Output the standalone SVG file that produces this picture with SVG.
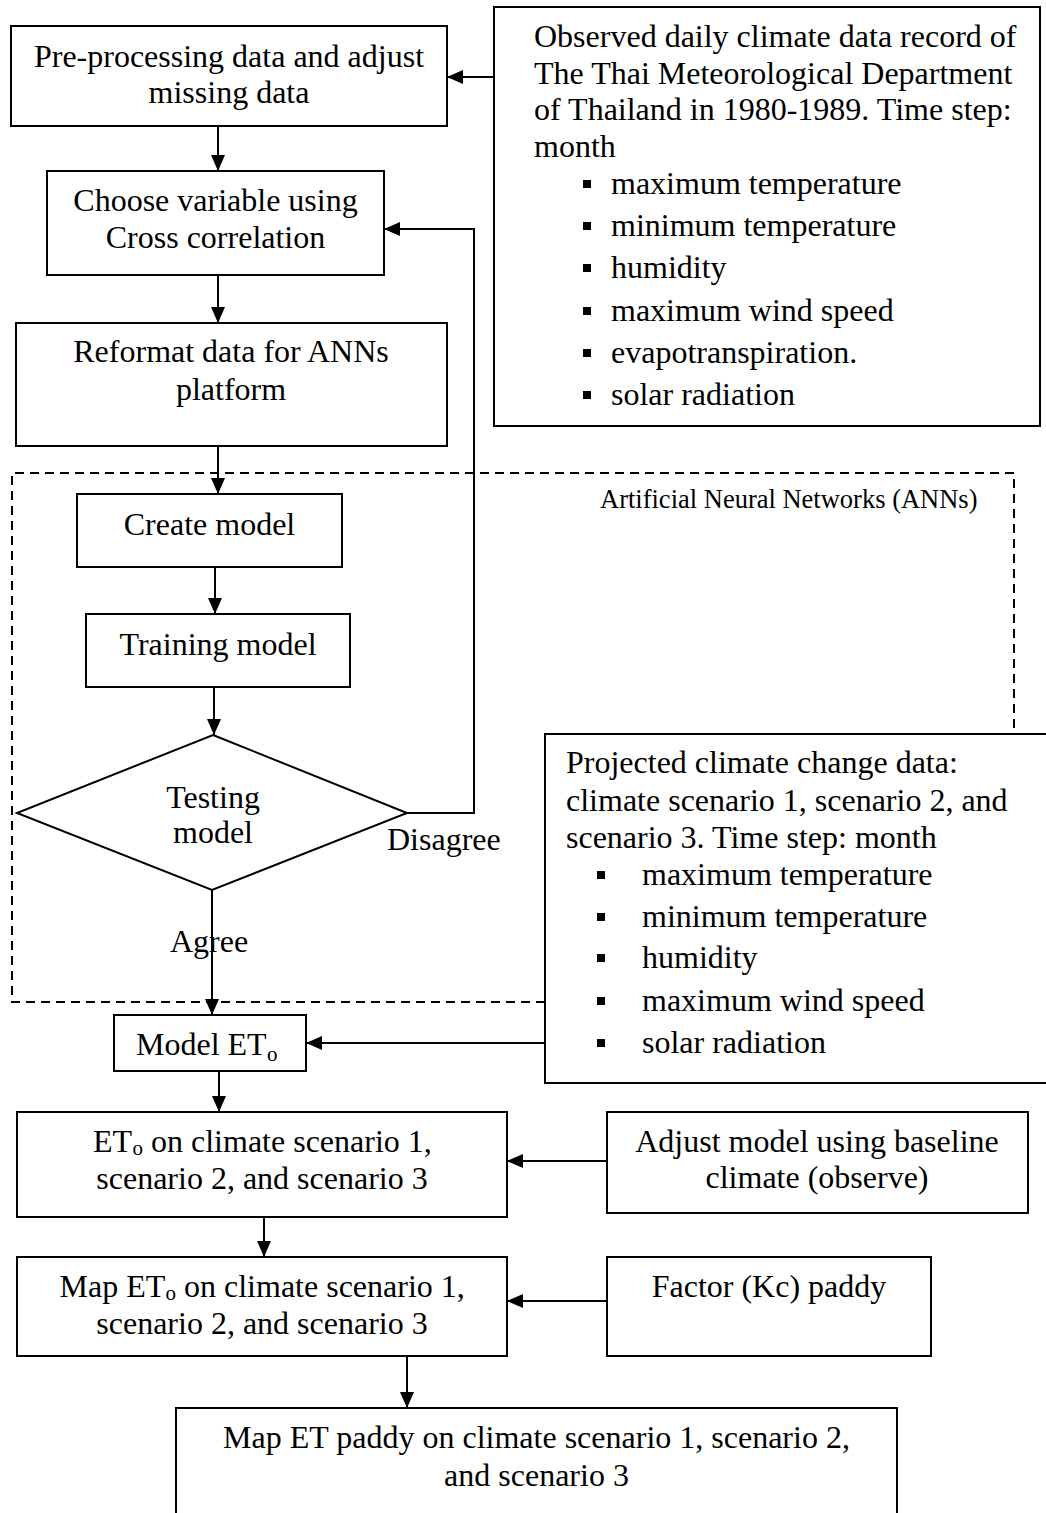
<svg xmlns="http://www.w3.org/2000/svg" width="1046" height="1513" viewBox="0 0 1046 1513">
  <style>
    .box { fill: #ffffff; stroke: #000000; stroke-width: 2; }
    .open { fill: none; stroke: #000000; stroke-width: 2; }
    .dash { fill: none; stroke: #000000; stroke-width: 2; stroke-dasharray: 9 6; }
    .arrow { fill: none; stroke: #000000; stroke-width: 2; marker-end: url(#head); }
    text { font-family: "Liberation Serif", "Times New Roman", serif; font-size: 32px; fill: #000000; }
    .c { text-anchor: middle; }
    .small { font-size: 26.5px; }
    .sub { font-size: 21px; }
    .bullet { fill: #000000; }
  </style>
  <defs>
    <marker id="head" markerUnits="userSpaceOnUse" markerWidth="16" markerHeight="14" refX="16" refY="7" orient="auto">
      <path d="M0,0 L16,7 L0,14 Z" fill="#000000"/>
    </marker>
  </defs>

  <!-- ANN group boundary -->
  <path class="dash" d="M545,1002 H12 V473 H1014 V734"/>
  <text class="small" x="600" y="508">Artificial Neural Networks (ANNs)</text>

  <g id="preprocess">
    <rect class="box" x="11" y="26" width="436" height="100"/>
    <text class="c" x="229" y="67">Pre-processing data and adjust</text>
    <text class="c" x="229" y="103">missing data</text>
  </g>

  <g id="observed">
    <rect class="box" x="494" y="7" width="546" height="419"/>
    <text x="534" y="47">Observed daily climate data record of</text>
    <text x="534" y="84">The Thai Meteorological Department</text>
    <text x="534" y="120">of Thailand in 1980-1989. Time step:</text>
    <text x="534" y="157">month</text>
    <rect class="bullet" x="583" y="180" width="8" height="8"/>
    <text x="611" y="194">maximum temperature</text>
    <rect class="bullet" x="583" y="222" width="8" height="8"/>
    <text x="611" y="236">minimum temperature</text>
    <rect class="bullet" x="583" y="264" width="8" height="8"/>
    <text x="611" y="278">humidity</text>
    <rect class="bullet" x="583" y="307" width="8" height="8"/>
    <text x="611" y="321">maximum wind speed</text>
    <rect class="bullet" x="583" y="349" width="8" height="8"/>
    <text x="611" y="363">evapotranspiration.</text>
    <rect class="bullet" x="583" y="391" width="8" height="8"/>
    <text x="611" y="405">solar radiation</text>
  </g>

  <g id="choose">
    <rect class="box" x="47" y="171" width="337" height="104"/>
    <text class="c" x="215.5" y="211">Choose variable using</text>
    <text class="c" x="215.5" y="248">Cross correlation</text>
  </g>

  <g id="reformat">
    <rect class="box" x="16" y="323" width="431" height="123"/>
    <text class="c" x="231" y="362">Reformat data for ANNs</text>
    <text class="c" x="231" y="400">platform</text>
  </g>

  <g id="create">
    <rect class="box" x="77" y="494" width="265" height="73"/>
    <text class="c" x="209.5" y="535">Create model</text>
  </g>

  <g id="training">
    <rect class="box" x="86" y="614" width="264" height="73"/>
    <text class="c" x="218" y="655">Training model</text>
  </g>

  <g id="testing">
    <path class="box" d="M213,735 L407,813 L212,890 L17,813 Z"/>
    <text class="c" x="213" y="808">Testing</text>
    <text class="c" x="213" y="843">model</text>
  </g>

  <g id="projected">
    <rect class="box" x="545" y="734" width="520" height="349"/>
    <text x="566" y="773">Projected climate change data:</text>
    <text x="566" y="811">climate scenario 1, scenario 2, and</text>
    <text x="566" y="848">scenario 3. Time step: month</text>
    <rect class="bullet" x="597" y="871" width="8" height="8"/>
    <text x="642" y="885">maximum temperature</text>
    <rect class="bullet" x="597" y="913" width="8" height="8"/>
    <text x="642" y="927">minimum temperature</text>
    <rect class="bullet" x="597" y="954" width="8" height="8"/>
    <text x="642" y="968">humidity</text>
    <rect class="bullet" x="597" y="997" width="8" height="8"/>
    <text x="642" y="1011">maximum wind speed</text>
    <rect class="bullet" x="597" y="1039" width="8" height="8"/>
    <text x="642" y="1053">solar radiation</text>
  </g>

  <g id="model-eto">
    <rect class="box" x="114" y="1015" width="192" height="56"/>
    <text x="136" y="1055">Model ET</text>
    <text class="sub" x="267" y="1061">o</text>
  </g>

  <g id="eto-scenarios">
    <rect class="box" x="17" y="1112" width="490" height="105"/>
    <text x="93" y="1152">ET</text>
    <text class="sub" x="132.5" y="1155">o</text>
    <text x="151" y="1152">on climate scenario 1,</text>
    <text class="c" x="262" y="1189">scenario 2, and scenario 3</text>
  </g>

  <g id="adjust">
    <rect class="box" x="607" y="1112" width="421" height="101"/>
    <text class="c" x="817" y="1152">Adjust model using baseline</text>
    <text class="c" x="817" y="1188">climate (observe)</text>
  </g>

  <g id="map-eto">
    <rect class="box" x="17" y="1257" width="490" height="99"/>
    <text x="59.5" y="1297">Map ET</text>
    <text class="sub" x="165.5" y="1300">o</text>
    <text x="184" y="1297">on climate scenario 1,</text>
    <text class="c" x="262" y="1334">scenario 2, and scenario 3</text>
  </g>

  <g id="kc-factor">
    <rect class="box" x="607" y="1257" width="324" height="99"/>
    <text class="c" x="769" y="1297">Factor (Kc) paddy</text>
  </g>

  <g id="map-et-paddy">
    <path class="open" d="M176,1514 V1408 H897 V1514"/>
    <text class="c" x="536.5" y="1448">Map ET paddy on climate scenario 1, scenario 2,</text>
    <text class="c" x="536.5" y="1486">and scenario 3</text>
  </g>

  <g id="connectors">
    <path class="arrow" d="M494,77 H447"/>
    <path class="arrow" d="M218,126 V171"/>
    <path class="arrow" d="M218,275 V323"/>
    <path class="arrow" d="M218,446 V494"/>
    <path class="arrow" d="M215,567 V614"/>
    <path class="arrow" d="M214,687 V735"/>
    <path class="arrow" d="M407,813 H474 V229 H384"/>
    <path class="arrow" d="M212,890 V1015"/>
    <path class="arrow" d="M545,1043 H306"/>
    <path class="arrow" d="M219,1071 V1112"/>
    <path class="arrow" d="M607,1161 H507"/>
    <path class="arrow" d="M264,1217 V1257"/>
    <path class="arrow" d="M607,1301 H507"/>
    <path class="arrow" d="M407,1356 V1408"/>
    <text x="387" y="850">Disagree</text>
    <text x="170" y="952">Agree</text>
  </g>
</svg>
